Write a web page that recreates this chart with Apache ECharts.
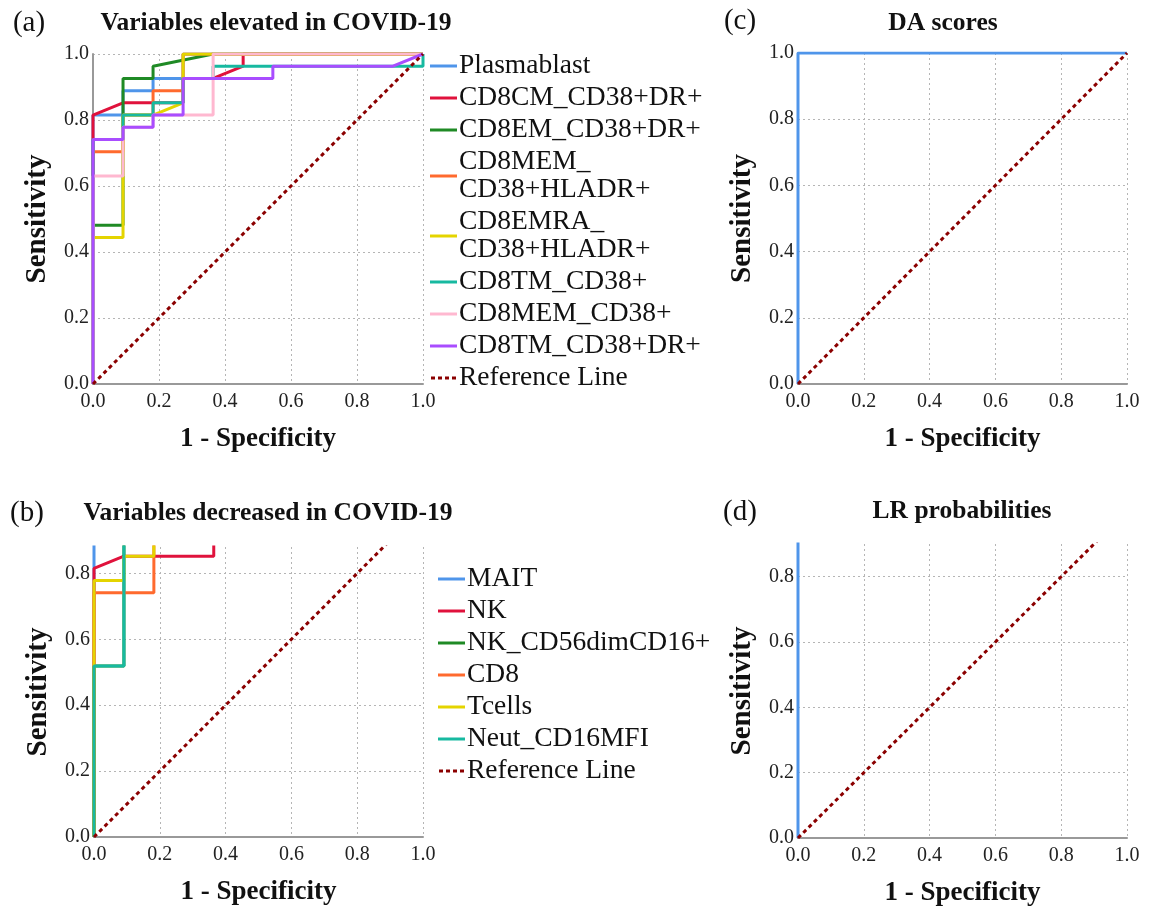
<!DOCTYPE html>
<html><head><meta charset="utf-8">
<script src="https://cdn.jsdelivr.net/npm/echarts@6/dist/echarts.min.js"></script>
<style>html,body{margin:0;padding:0;background:#fff}#c{width:1154px;height:908px}</style>
</head><body><div id="c"></div>
<script>
const FONT = '"Liberation Serif","Times New Roman",serif';
const panelLabels = ['(a)', '(b)', '(c)', '(d)'];
const panelTitles = ['Variables elevated in COVID-19', 'Variables decreased in COVID-19', 'DA scores', 'LR probabilities'];
const xAxisName = '1 - Specificity';
const yAxisName = 'Sensitivity';
const yMax = [1.0, 0.88, 1.0, 0.9];

// Reference (chance) line
const refLine = [[0, 0], [1, 1]];

// Panel (a): variables elevated in COVID-19 (ROC points: [1-specificity, sensitivity])
const namesA = ['Plasmablast', 'CD8CM_CD38+DR+', 'CD8EM_CD38+DR+', 'CD8MEM_CD38+HLADR+', 'CD8EMRA_CD38+HLADR+', 'CD8TM_CD38+', 'CD8MEM_CD38+', 'CD8TM_CD38+DR+'];
const colorsA = ['#4f95ea', '#e0123c', '#1f8a25', '#ff6a2e', '#e4d400', '#17b9a0', '#ffb8d0', '#a94dff'];
const plasmablast = [[0, 0], [0, .815], [.091, .815], [.091, .889], [.182, .889], [.182, .926], [.273, .926], [.273, 1], [1, 1]];
const cd8cmCd38Dr = [[0, 0], [0, .815], [.091, .852], [.273, .852], [.273, .926], [.364, .926], [.455, .963], [.455, 1], [1, 1]];
const cd8emCd38Dr = [[0, 0], [0, .481], [.091, .481], [.091, .926], [.182, .926], [.182, .963], [.364, 1], [1, 1]];
const cd8memCd38Hladr = [[0, 0], [0, .704], [.091, .704], [.091, .815], [.182, .815], [.182, .889], [.273, .889], [.273, 1], [1, 1]];
const cd8emraCd38Hladr = [[0, 0], [0, .444], [.091, .444], [.091, .815], [.182, .815], [.273, .852], [.273, 1], [1, 1]];
const cd8tmCd38 = [[0, 0], [0, .741], [.091, .741], [.091, .815], [.182, .815], [.182, .852], [.273, .852], [.273, .926], [.364, .926], [.364, .963], [1, .963], [1, 1]];
const cd8memCd38 = [[0, 0], [0, .630], [.091, .630], [.091, .778], [.182, .778], [.182, .815], [.364, .815], [.364, 1], [1, 1]];
const cd8tmCd38Dr = [[0, 0], [0, .741], [.091, .741], [.091, .778], [.182, .778], [.182, .815], [.273, .815], [.273, .926], [.545, .926], [.545, .963], [.909, .963], [1, 1]];
const seriesA = [plasmablast, cd8cmCd38Dr, cd8emCd38Dr, cd8memCd38Hladr, cd8emraCd38Hladr, cd8tmCd38, cd8memCd38, cd8tmCd38Dr];
const legendLabelsA = {'CD8MEM_CD38+HLADR+': 'CD8MEM_\nCD38+HLADR+', 'CD8EMRA_CD38+HLADR+': 'CD8EMRA_\nCD38+HLADR+'};

// Panel (b): variables decreased in COVID-19
const namesB = ['MAIT', 'NK', 'NK_CD56dimCD16+', 'CD8', 'Tcells', 'Neut_CD16MFI'];
const colorsB = ['#4f95ea', '#e0123c', '#1f8a25', '#ff6a2e', '#e4d400', '#17b9a0'];
const mait = [[0, 0], [0, 1], [1, 1]];
const nk = [[0, 0], [0, .815], [.091, .852], [.364, .852], [.364, 1], [1, 1]];
const nkCd56dim = [[0, 0], [0, .519], [.091, .519], [.091, 1], [1, 1]];
const cd8 = [[0, 0], [0, .741], [.182, .741], [.182, 1], [1, 1]];
const tcells = [[0, 0], [0, .778], [.091, .778], [.091, .852], [.182, .852], [.182, 1], [1, 1]];
const neutCd16 = [[0, 0], [0, .519], [.091, .519], [.091, 1], [1, 1]];
const seriesB = [mait, nk, nkCd56dim, cd8, tcells, neutCd16];

// Panel (c) DA scores, panel (d) LR probabilities
const daScores = [[0, 0], [0, 1], [1, 1]];
const lrProbabilities = [[0, 0], [0, 1], [1, 1]];
const blue = '#4f95ea';
const refColor = '#8b0000';

const grids = [
  {left: 93, top: 54, width: 330, height: 330},
  {left: 94, top: 547, width: 329, height: 290},
  {left: 798, top: 53, width: 329, height: 331},
  {left: 798, top: 544, width: 329, height: 297}
];

const xAxes = grids.map((g, i) => ({
  type: 'value', gridIndex: i, min: 0, max: 1, interval: 0.2,
  name: xAxisName, nameLocation: 'middle', nameGap: 42,
  nameTextStyle: {fontFamily: FONT, fontSize: 27, fontWeight: 'bold', color: '#111'},
  axisLine: {show: true, onZero: false, lineStyle: {color: '#999', width: 2}},
  axisTick: {show: false},
  axisLabel: {fontFamily: FONT, fontSize: 20, color: '#222', margin: 8, formatter: v => v.toFixed(1)},
  splitLine: {show: true, lineStyle: {type: [2, 3], color: '#b5b5b5', width: 1}}
}));
const yAxes = grids.map((g, i) => ({
  type: 'value', gridIndex: i, min: 0, max: yMax[i], interval: 0.2,
  name: yAxisName, nameLocation: 'middle', nameGap: 41,
  nameTextStyle: {fontFamily: FONT, fontSize: 29, fontWeight: 'bold', color: '#111'},
  axisLine: {show: true, onZero: false, lineStyle: {color: '#999', width: 2}},
  axisTick: {show: false},
  axisLabel: {fontFamily: FONT, fontSize: 20, color: '#222', margin: 4, showMaxLabel: yMax[i] === 1.0, formatter: v => v.toFixed(1)},
  splitLine: {show: true, showMaxLine: yMax[i] === 1.0, lineStyle: {type: [2, 3], color: '#b5b5b5', width: 1}}
}));

function roc(name, data, color, idx, z) {
  return {type: 'line', name, data, xAxisIndex: idx, yAxisIndex: idx, symbol: 'none', showSymbol: false,
    clip: true, z, animation: false, lineStyle: {width: 3, color}, itemStyle: {color}, emphasis: {disabled: true}};
}
function ref(idx) {
  return {type: 'line', name: 'Reference Line', data: refLine, xAxisIndex: idx, yAxisIndex: idx, symbol: 'none',
    clip: true, z: 20, animation: false, lineStyle: {width: 3, color: refColor, type: [4, 3.5]}, itemStyle: {color: refColor}, emphasis: {disabled: true}};
}

const series = [];
namesA.forEach((n, k) => series.push(roc(n, seriesA[k], colorsA[k], 0, 2 + k)));
series.push(ref(0));
namesB.forEach((n, k) => series.push(roc(n, seriesB[k], colorsB[k], 1, 2 + k)));
series.push(ref(1));
series.push(roc('DA scores', daScores, blue, 2, 2));
series.push(ref(2));
series.push(roc('LR probabilities', lrProbabilities, blue, 3, 2));
series.push(ref(3));

const solidIcon = 'path://M0,0H27V3H0Z';
const dashIcon = 'path://M0,0H4V3H0Z M7,0H11V3H7Z M14,0H18V3H14Z M21,0H25V3H21Z';
const legendItems = names => names.map(n => ({name: n, icon: solidIcon})).concat([{name: 'Reference Line', icon: dashIcon}]);

const legendBase = {
  orient: 'vertical', itemWidth: 27, itemHeight: 3, itemGap: 4, padding: 0, selectedMode: false,
  textStyle: {fontFamily: FONT, fontSize: 27.5, color: '#111', lineHeight: 28, padding: [0, 0, 0, -3]}
};

const titlePos = [[276, 23], [268, 513], [943, 23], [962, 511]];
const labelPos = [[29, 23], [27, 513], [740, 21], [740, 512]];
const graphic = [];
panelTitles.forEach((t, i) => graphic.push({type: 'text', x: titlePos[i][0], y: titlePos[i][1], silent: true,
  style: {text: t, font: 'bold 25.5px ' + FONT, fill: '#111', align: 'center', verticalAlign: 'middle', textAlign: 'center', textVerticalAlign: 'middle'}}));
panelLabels.forEach((t, i) => graphic.push({type: 'text', x: labelPos[i][0], y: labelPos[i][1], silent: true,
  style: {text: t, font: '29px ' + FONT, fill: '#111', align: 'center', verticalAlign: 'middle', textAlign: 'center', textVerticalAlign: 'middle'}}));

const chart = echarts.init(document.getElementById('c'), null, {renderer: 'canvas'});
chart.setOption({
  animation: false,
  backgroundColor: '#fff',
  grid: grids,
  xAxis: xAxes,
  yAxis: yAxes,
  legend: [
    Object.assign({}, legendBase, {left: 430, top: 52, data: legendItems(namesA), formatter: n => legendLabelsA[n] || n}),
    Object.assign({}, legendBase, {left: 438, top: 565, data: legendItems(namesB)})
  ],
  graphic,
  series
});
</script></body></html>
